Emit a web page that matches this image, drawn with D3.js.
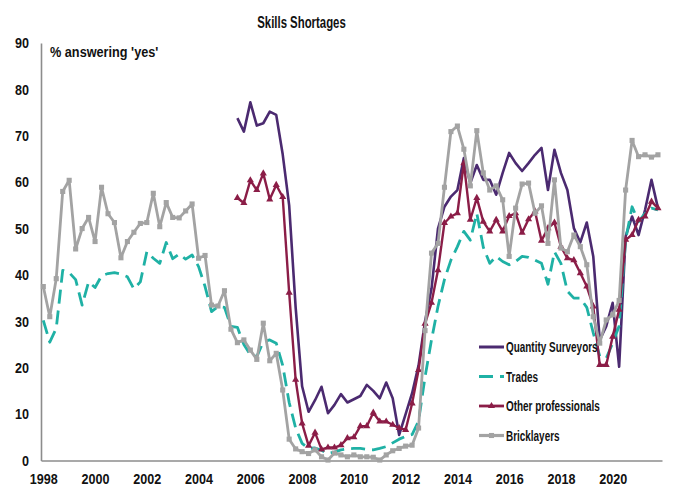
<!DOCTYPE html>
<html>
<head>
<meta charset="utf-8">
<script src="https://cdn.jsdelivr.net/npm/d3@7"></script>
<style>
  body { margin: 0; background: #fff; }
  svg text { font-family: "Liberation Sans", Arial, sans-serif; font-weight: bold; fill: #111; }
</style>
</head>
<body>
<div id="chart"></div>
<script>
// quarterly survey, 1998 Q1 .. 2021 Q4
const startYear = 1998;
const nQuarters = 96;
const yearTicks = [1998, 2000, 2002, 2004, 2006, 2008, 2010, 2012, 2014, 2016, 2018, 2020];
const yTicks = [0, 10, 20, 30, 40, 50, 60, 70, 80, 90];

const seriesNames = ["Quantity Surveyors", "Trades", "Other professionals", "Bricklayers"];

const quantitySurveyors = [
  null, null, null, null, null, null, null, null, null, null,
  null, null, null, null, null, null, null, null, null, null,
  null, null, null, null, null, null, null, null, null, null,
  73.8, 70.9, 77.2, 72.2, 72.7, 75.2, 74.5, 66, 55, 33,
  16, 10.5, 13, 15.9, 10.2, 12, 14.3, 12.5, 13.2, 13.9,
  16.3, 15, 13.4, 16.8, 13.4, 5.5, 10, 14.5, 20.5, 30,
  37, 50, 54.7, 56.9, 58.3, 65.2, 59.8, 63.7, 60.5, 60.5,
  57.3, 62, 66.3, 64.1, 62.4, 64.1, 65.9, 67.4, 58.3, 67,
  62, 58.3, 50.1, 47, 51.3, 44, 26, 28.9, 34, 20.2,
  48.3, 52.6, 48.6, 54, 60.5, 54.4
];

const trades = [
  30.2, 25.5, 28.5, 41, 40.5, 39, 33.5, 38.5, 37.3, 39.8,
  40.3, 40.5, 40.2, 39.6, 37, 38.5, 45, 43.6, 42.5, 47,
  43.5, 44.5, 43.4, 44.3, 41.8, 37.5, 32.1, 33.2, 33, 28.9,
  28.7, 25, 22.8, 22.4, 25.6, 26, 25.3, 20.5, 12.5, 7,
  3.7, 2.6, 2.7, 2.2, 1.5, 1.8, 2.3, 2.5, 2.6, 2.6,
  2.4, 2.3, 2.6, 3, 3.8, 4.6, 5.2, 5.6, 8.5, 18,
  26, 33.2, 39, 43.2, 46.1, 49.4, 47.5, 53.3, 46, 42.5,
  44, 42.9, 42.2, 42.9, 44, 43.8, 43.2, 42.5, 38, 45,
  42.5, 36.5, 35, 35, 33, 27.5, 22.5, 22, 25.3, 29,
  47.6, 54.7, 51.5, 53.3, 54.4, 54
];

const otherProfessionals = [
  null, null, null, null, null, null, null, null, null, null,
  null, null, null, null, null, null, null, null, null, null,
  null, null, null, null, null, null, null, null, null, null,
  56.6, 55.5, 60.4, 58.3, 61.9, 56.3, 59.4, 56.8, 36.2, 17.4,
  8, 3.2, 6, 2.4, 2.8, 2.8, 3.3, 4.8, 5, 7.4,
  7.4, 10.3, 8.4, 8.4, 7.7, 7, 6.6, 12.3, 19.5, 29.5,
  34, 41, 51.2, 52.6, 53.3, 64.1, 51.9, 56.6, 51.5, 49.4,
  51.9, 49.4, 52.7, 53.3, 49.1, 52, 53.7, 47.4, 50.1, 51.3,
  46.1, 43.6, 43.2, 40.4, 37.5, 33.2, 20.6, 20.6, 26.7, 32.5,
  47.6, 48.6, 51.9, 52.6, 55.8, 54.4
];

const bricklayers = [
  37.5, 31, 39.2, 58, 60.4, 45.6, 50, 52.4, 47.2, 58.9,
  53.2, 51.3, 43.7, 47.2, 49.2, 51.1, 51.3, 57.6, 50.4, 55.6,
  52.4, 52.3, 53.8, 55.3, 43.6, 44.2, 33.5, 33.3, 36.6, 28.3,
  25.4, 26, 23.8, 21.8, 29.6, 21.5, 23.1, 15.2, 4.6, 2.5,
  1.9, 1.5, 2.3, 0.8, 0.1, 1.6, 1.2, 0.8, 1.2, 0.8,
  0.8, 0.7, 0.1, 1.2, 2.1, 2.6, 3.1, 3.3, 7, 28,
  44.7, 46.8, 58.9, 70.9, 72.1, 67.1, 59.2, 71.1, 62, 58.3,
  59.2, 56.2, 44, 54.4, 59.6, 59.8, 53.3, 54.9, 46.8, 60.5,
  45.8, 45, 48.6, 46.1, 42.2, 31, 25.3, 30.3, 31.4, 34.5,
  58.3, 69, 65.5, 65.9, 65.4, 65.9
];

const width = 681, height = 488;
const quarters = d3.range(nQuarters).map(i => startYear + i / 4);

const svg = d3.select("#chart")
  .append("svg")
  .attr("width", width)
  .attr("height", height);

// scales
const x = d3.scaleLinear()
  .domain([1997.911, 2021.906])
  .range([41, 662]);

const y = d3.scaleLinear()
  .domain([0, 90])
  .range([460.5, 43]);

// the original uses a condensed bold face, so squeeze the text horizontally
function squeezed(g, px, py, sx, size, anchor, txt) {
  return g.append("text")
    .attr("transform", `translate(${px},${py}) scale(${sx},1)`)
    .attr("text-anchor", anchor)
    .style("font-size", size + "px")
    .text(txt);
}

squeezed(svg, 301.5, 27.5, 0.67, 17, "middle", "Skills Shortages");
squeezed(svg, 50, 57, 0.82, 15.5, "start", "% answering 'yes'");

// axes
const yAxis = svg.append("g")
  .attr("transform", "translate(41,0)")
  .call(d3.axisLeft(y).tickValues(yTicks).tickSize(0).tickPadding(12));

const xAxis = svg.append("g")
  .attr("transform", `translate(0,${y(0)})`)
  .call(d3.axisBottom(x).tickValues(yearTicks).tickFormat(d3.format("d")).tickSize(0).tickPadding(13));

[xAxis, yAxis].forEach(g => {
  g.select(".domain").attr("stroke", "#8c8c8c").attr("stroke-width", 1.6);
  g.selectAll("text")
    .style("font-size", "15px")
    .style("font-family", '"Liberation Sans", Arial, sans-serif')
    .style("font-weight", "bold")
    .attr("fill", "#111");
});
yAxis.selectAll(".tick text").attr("x", null).attr("transform", "translate(-12,0) scale(0.84,1)");
xAxis.selectAll(".tick text").attr("transform", "scale(0.84,1)");

// series
const series = [
  { name: seriesNames[0], values: quantitySurveyors, color: "#4b2a70", width: 2.6, dash: null, marker: null },
  { name: seriesNames[1], values: trades, color: "#1fb1a5", width: 2.8, dash: "14,7", marker: null },
  { name: seriesNames[2], values: otherProfessionals, color: "#8b1d47", width: 2.4, dash: null, marker: "triangle" },
  { name: seriesNames[3], values: bricklayers, color: "#a3a3a3", width: 2.8, dash: null, marker: "square" }
];

const line = d3.line()
  .defined(d => d.v != null)
  .x(d => x(d.t))
  .y(d => y(d.v));

const markerSymbol = {
  triangle: d3.symbol().type(d3.symbolTriangle).size(22),
  square: d3.symbol().type(d3.symbolSquare).size(26)
};

series.forEach(s => {
  const pts = quarters.map((t, i) => ({ t: t, v: s.values[i] }));
  svg.append("path")
    .datum(pts)
    .attr("fill", "none")
    .attr("stroke", s.color)
    .attr("stroke-width", s.width)
    .attr("stroke-dasharray", s.dash)
    .attr("stroke-linejoin", "round")
    .attr("d", line);

  if (s.marker) {
    svg.append("g")
      .selectAll("path")
      .data(pts.filter(d => d.v != null))
      .enter().append("path")
      .attr("transform", d => `translate(${x(d.t)},${y(d.v)})`)
      .attr("d", markerSymbol[s.marker])
      .attr("fill", s.color);
  }
});

// legend
const legend = svg.append("g");
series.forEach((s, i) => {
  const ly = 347 + i * 29.5;
  legend.append("line")
    .attr("x1", 479).attr("x2", 504)
    .attr("y1", ly).attr("y2", ly)
    .attr("stroke", s.color)
    .attr("stroke-width", s.width + 0.4)
    .attr("stroke-dasharray", s.dash);
  if (s.marker) {
    legend.append("path")
      .attr("transform", `translate(491.5,${ly})`)
      .attr("d", markerSymbol[s.marker])
      .attr("fill", s.color);
  }
  squeezed(legend, 506, ly + 5, 0.71, 14, "start", s.name);
});
</script>
</body>
</html>
